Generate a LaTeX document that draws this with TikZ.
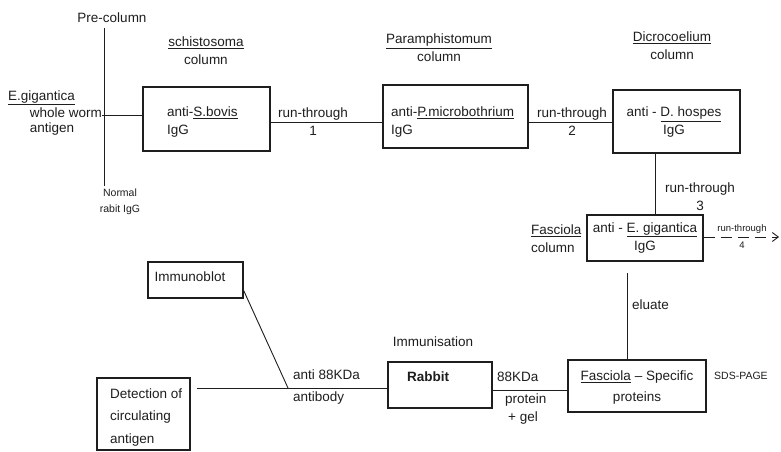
\documentclass[tikz,border=0pt]{standalone}
\usepackage{fontspec}
\setmainfont{Liberation Sans}
\usetikzlibrary{arrows.meta}
\definecolor{ink}{HTML}{1E1E1E}
\begin{document}
\begin{tikzpicture}[x=1pt,y=-1pt,
  box/.style={draw=ink, line width=1.6pt, inner sep=0pt},
  conn/.style={draw=ink, line width=0.9pt},
  txt/.style={font=\fontsize{13.5}{18}\selectfont, text=ink, inner sep=0pt},
  small/.style={font=\fontsize{10.5}{16}\selectfont, text=ink, inner sep=0pt}]
\fill[white] (0,0) rectangle (781,452);
\useasboundingbox (0,0) rectangle (781,452);

% boxes
\node[box, minimum width=127pt, minimum height=64pt] (b1) at (206.5,119) {};
\node[box, minimum width=145pt, minimum height=63pt] (b2) at (455.5,116.5) {};
\node[box, minimum width=127pt, minimum height=63pt] (b3) at (676.5,121.5) {};
\node[box, minimum width=116pt, minimum height=46pt] (b4) at (645,238) {};
\node[box, minimum width=138pt, minimum height=52pt] (b5) at (637,386) {};
\node[box, minimum width=104pt, minimum height=46pt] (rabbit) at (440,385) {};
\node[box, minimum width=95pt, minimum height=36pt] (blot) at (195.5,280) {};
\node[box, minimum width=93pt, minimum height=72pt] (detect) at (143.5,414) {};

% coordinates for connectors
\coordinate (pctop) at (104,28);
\coordinate (pcbot) at (104,186);
\coordinate (wwend) at (102,115);
\coordinate (l1) at (0,122);
\coordinate (v3) at (655,0);
\coordinate (l4) at (0,237);
\coordinate (a4) at (779,237);
\coordinate (el) at (627,273);
\coordinate (l5) at (0,390);
\coordinate (d0) at (197,388);
\coordinate (j) at (288,388);

% connectors
\draw[conn] (pctop) -- (pcbot);
\draw[conn] (wwend) -- (wwend -| b1.west);
\draw[conn] (b1.east |- l1) -- (b2.west |- l1);
\draw[conn] (b2.east |- l1) -- (b3.west |- l1);
\draw[conn] (b3.south -| v3) -- (b4.north -| v3);
\draw[conn, dash pattern=on 11pt off 6pt, -{Straight Barb[length=6pt,width=9pt]}] (b4.east |- l4) -- (a4);
\draw[conn] (el) -- (el |- b5.north);
\draw[conn] (rabbit.east |- l5) -- (b5.west |- l5);
\draw[conn] (d0) -- (d0 -| rabbit.west);
\draw[conn] ([yshift=8pt]blot.south east) -- (j);

% texts
\node[txt] (pre) at (112,18) {Pre-column};
\node[txt, align=center] (schi) at (206,50.5) {\underline{schistosoma}\\column};
\node[txt, anchor=west] (eg1) at (8,98) {\underline{E.gigantica}};
\node[txt, anchor=east] (eg2) at (102,113) {whole worm};
\node[txt] (eg3) at (52,129) {antigen};
\node[small, align=center] (nrm) at (120,202) {Normal\\rabit IgG};
\node[txt, anchor=west, align=left] (t1) at (167,122) {anti-\underline{S.bovis}\\IgG};
\node[txt, align=center] (rt1) at (313,121.5) {run-through\\1};
\node[txt, align=center] (par) at (439,48) {\underline{Paramphistomum}\\column};
\node[txt, anchor=west, align=left] (t2) at (391,122.5) {anti-\underline{P.microbothrium}\\IgG};
\node[txt, align=center] (rt2) at (572,122) {run-through\\2};
\node[txt, align=center] (dic) at (672,46) {\underline{Dicrocoelium}\\column};
\node[txt, align=center] (t3) at (674,122.5) {anti - \underline{D. hospes}\\IgG};
\node[txt, align=center] (rt3) at (700,197) {run-through\\3};
\node[txt, anchor=west, align=left] (fcol) at (531,238.5) {\underline{Fasciola}\\column};
\node[txt, align=center] (t4) at (645,238) {anti - \underline{E. gigantica}\\IgG};
\node[font=\fontsize{9.5}{17}\selectfont, text=ink, inner sep=0pt, align=center] (rt4) at (742,236.5) {run-through\\4};
\node[txt, anchor=west] (elu) at (632,305) {eluate};
\node[txt, align=center] (t5) at (637,387.5) {\underline{Fasciola} -- Specific\\[3pt]proteins};
\node[small, anchor=west] (sds) at (714,376) {SDS-PAGE};
\node[txt] (imm) at (433,342) {Immunisation};
\node[txt, font=\fontsize{13.5}{18}\selectfont\bfseries] (rab) at (428,377) {Rabbit};
\node[txt, anchor=west] (kda) at (497,377) {88KDa};
\node[txt, anchor=west] (prot) at (505,400) {protein};
\node[txt, anchor=west] (gel) at (508,418) {+ gel};
\node[txt, anchor=west] (ab1) at (293,375) {anti 88KDa};
\node[txt, anchor=west] (ab2) at (293,398) {antibody};
\node[txt] (blt) at (190,277) {Immunoblot};
\node[txt, anchor=west, align=left, font=\fontsize{13.5}{22.5}\selectfont] (det) at (110,417.5) {Detection of\\circulating\\antigen};
\end{tikzpicture}
\end{document}
